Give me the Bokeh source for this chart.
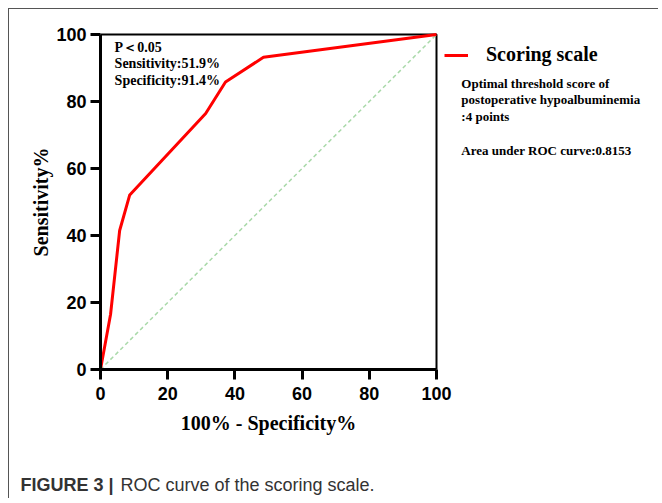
import math
from bokeh.plotting import figure
from bokeh.models import Range1d, FixedTicker, Label, Legend, LegendItem, LinearAxis
from bokeh.embed import file_html
from bokeh.resources import INLINE

# ROC curve of the scoring scale
fpr = [0, 3.0, 5.7, 8.7, 31.3, 37.2, 48.5, 100]      # 100% - Specificity%
tpr = [0, 16.5, 41.5, 52.1, 76.4, 85.8, 93.2, 100]   # Sensitivity%
ref_x = [0, 100]
ref_y = [0, 100]
ticks = [0, 20, 40, 60, 80, 100]
series_name = "Scoring scale"
x_title = "100% - Specificity%"
y_title = "Sensitivity%"
stats_left = ["P\uff1c0.05", "Sensitivity:51.9%", "Specificity:91.4%"]
stats_right = ["Optimal threshold score of", "postoperative hypoalbuminemia",
               ":4 points", "Area under ROC curve:0.8153"]

SERIF = "Liberation Serif"
SANS = "Liberation Sans"

# layout (pixels) -> ranges so that 0..100 sits where the reference plot area is
W, H = 650, 490
X0_PX, PX = 91, 3.36      # canvas x of value 0, px per unit
Y0_PX, PY = 360, 3.35     # canvas y of value 0, px per unit
x_range = Range1d(-X0_PX / PX, (W - X0_PX) / PX)
y_range = Range1d(-(H - Y0_PX) / PY, Y0_PX / PY)

p = figure(width=W, height=H, output_backend="svg", toolbar_location=None,
           x_range=x_range, y_range=y_range,
           x_axis_location=None, y_axis_location=None,
           min_border=0, min_border_left=0, min_border_right=0,
           min_border_top=0, min_border_bottom=0,
           margin=(8, 0, 0, 8),
           styles={"border-left": "1px solid #555", "border-top": "1px solid #555"})
p.grid.visible = False
p.outline_line_color = None

xaxis = LinearAxis(fixed_location=0, bounds=(ticks[0], ticks[-1]))
yaxis = LinearAxis(fixed_location=0, bounds=(ticks[0], ticks[-1]))
p.add_layout(xaxis, "below")
p.add_layout(yaxis, "left")
for ax in (xaxis, yaxis):
    ax.ticker = FixedTicker(ticks=ticks)
    ax.axis_line_width = 3
    ax.axis_line_color = "black"
    ax.major_tick_line_width = 3
    ax.major_tick_out = 10
    ax.major_tick_in = 0
    ax.minor_tick_line_color = None
    ax.major_label_text_font = SANS
    ax.major_label_text_font_style = "bold"
    ax.major_label_text_font_size = "18px"
    ax.major_label_text_color = "black"
xaxis.major_label_standoff = 7
yaxis.major_label_standoff = 4

# top / right frame lines
p.line([ticks[0], ticks[-1], ticks[-1]], [ticks[-1], ticks[-1], ticks[0]],
       line_color="black", line_width=2)

p.line(ref_x, ref_y, line_color="#a9d9a9", line_width=1.5, line_dash="4 3")
roc = p.line(fpr, tpr, line_color="#ff0000", line_width=3)

# axis titles
p.add_layout(Label(x=50, y=-16.1, text=x_title, text_font=SERIF, text_font_style="bold",
                   text_font_size="20px", text_align="center", text_baseline="middle",
                   text_color="black"))
p.add_layout(Label(x=-17.6, y=50, text=y_title, text_font=SERIF, text_font_style="bold",
                   text_font_size="20px", text_align="center", text_baseline="middle",
                   angle=math.pi / 2, text_color="black"))

legend = Legend(items=[LegendItem(label=series_name, renderers=[roc])],
                location=(435, H - 57.5), padding=4, glyph_width=24, glyph_height=24,
                label_height=24, label_standoff=18,
                label_text_font=SERIF, label_text_font_style="bold",
                label_text_font_size="20px", label_text_color="black",
                border_line_color=None, background_fill_alpha=0)
p.add_layout(legend)

# annotations inside plot
for i, t in enumerate(stats_left):
    p.add_layout(Label(x=4.2, y=96.2 - i * 4.9, text=t, text_font=SERIF,
                       text_font_style="bold", text_font_size="14px",
                       text_baseline="middle", text_color="black"))

right_y = [85.3, 80.5, 75.4, 65.5]
for t, yy in zip(stats_right, right_y):
    p.add_layout(Label(x=107.4, y=yy, text=t, text_font=SERIF,
                       text_font_style="bold", text_font_size="13px",
                       text_baseline="middle", text_color="black"))

# caption
p.add_layout(Label(x=-23.8, y=-34.6, text="FIGURE 3 |", text_font=SANS,
                   text_font_style="bold", text_font_size="18px",
                   text_baseline="middle", text_color="#333333"))
p.add_layout(Label(x=5.95, y=-34.6, text="ROC curve of the scoring scale.", text_font=SANS,
                   text_font_size="18px", text_baseline="middle", text_color="#333333"))

open("out.html", "w").write(file_html(p, INLINE))
